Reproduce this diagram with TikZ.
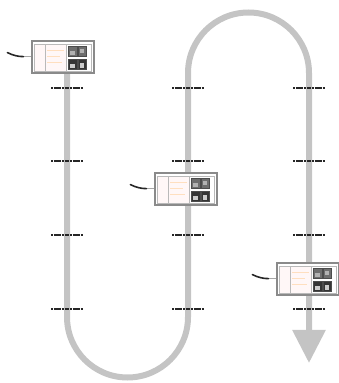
\documentclass[tikz,border=0pt]{standalone}
\usetikzlibrary{arrows.meta}
\definecolor{track}{HTML}{C4C4C4}
\definecolor{frame}{HTML}{8A8A8A}
\definecolor{iconlight}{HTML}{6E6E6E}
\definecolor{icondark}{HTML}{353535}
\tikzset{
  trackline/.style={draw=track, line width=6pt},
  marker/.style={draw=black!85, line width=2.2pt, dash pattern=on 2.2pt off 0.5pt},
  devbox/.style={draw=frame, fill=white, line width=1.2pt, minimum width=62pt, minimum height=32pt, inner sep=0pt},
  panel/.style={draw=frame!60, line width=0.6pt},
  trace/.style={draw=orange!25, line width=0.6pt},
  icon/.style={draw=black!70, line width=0.5pt},
  wire/.style={draw=black!35, line width=0.7pt},
  plug/.style={draw=black!85, line width=1.6pt, line cap=round}
}
% one controller unit: name, centre x, centre y
\newcommand\ctrlunit[3]{%
  \node[devbox] (#1) at (#2,#3) {};
  \begin{scope}[shift={(#1.south west)}]
    \fill[red!3] (2.5,2.5) rectangle (35,29.5);
    \draw[panel] (2.5,2.5) rectangle (59.5,29.5);
    \draw[panel] (14,2.5) -- (14,29.5);
    \draw[panel] (35,2.5) -- (35,29.5);
    \draw[trace] (16,23) -- (33,23);
    \draw[trace] (16,17) -- (29,17);
    \draw[trace] (16,11) -- (31,11);
    \draw[icon, fill=iconlight] (37,17) rectangle (45.5,27);
    \draw[icon, fill=iconlight] (46.5,17) rectangle (55,27);
    \draw[icon, fill=icondark] (37,4) rectangle (45.5,14);
    \draw[icon, fill=icondark] (46.5,4) rectangle (55,14);
    \fill[black!30] (39,19) rectangle (43.5,23);
    \fill[black!30] (48.5,21) rectangle (53,25);
    \fill[white!80!black] (39,6) rectangle (43.5,10);
    \fill[white!80!black] (49,6) rectangle (53,11);
    \coordinate (#1-port) at (0,17);
    \coordinate (#1-wire) at (-8,17);
    \coordinate (#1-plug) at (-24,21);
    \draw[wire] (#1-port) -- (#1-wire);
    \draw[plug] (#1-wire) .. controls (-13,17) and (-18,18) .. (#1-plug);
  \end{scope}
}
\begin{document}
\begin{tikzpicture}[x=1pt,y=1pt]
  \useasboundingbox (0,0) rectangle (338,383);
  % serpentine track ending in an arrow
  \draw[trackline, -{Triangle[width=32pt,length=33pt]}]
    (67,320) -- (67,66) arc[start angle=180, end angle=360, radius=60.5]
    -- (188,310) arc[start angle=180, end angle=0, radius=60.5]
    -- (309,20);
  % position markers across each run
  \foreach \cx in {67,188,309}{
    \foreach \cy in {295,222,148,74}{
      \draw[marker] (\cx-16,\cy) -- (\cx+16,\cy);
    }
  }
  % controller units along the track
  \ctrlunit{unitA}{63}{326}
  \ctrlunit{unitB}{186}{194}
  \ctrlunit{unitC}{308}{104}
\end{tikzpicture}
\end{document}
